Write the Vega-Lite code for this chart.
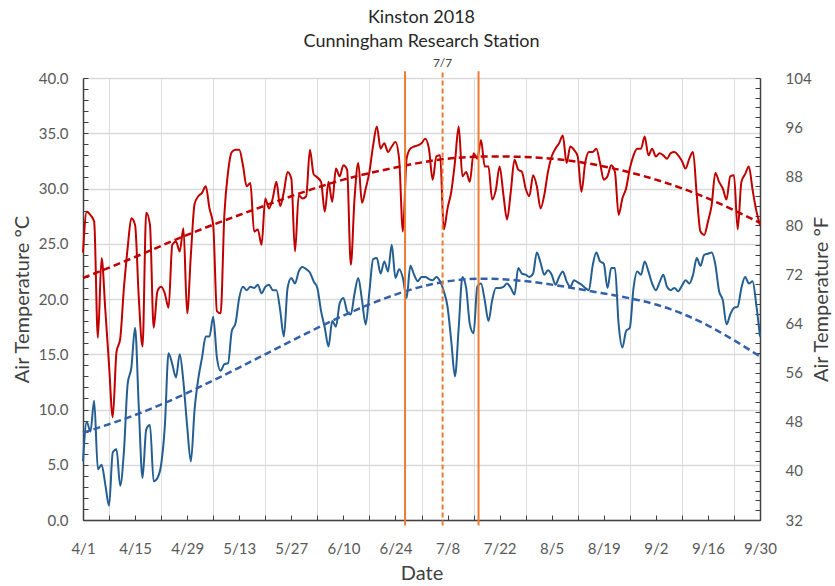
{
  "$schema": "https://vega.github.io/schema/vega-lite/v6.json",
  "autosize": {"type": "none"},
  "width": 677,
  "height": 442,
  "padding": {"left": 83, "top": 78, "right": 75, "bottom": 66},
  "background": "white",
  "title": {"text": ["Kinston 2018", "Cunningham Research Station"], "font": "Lato", "fontSize": 18, "fontWeight": "normal", "color": "#262626", "lineHeight": 24, "offset": 6, "anchor": "middle", "frame": "group"},
  "config": {
    "view": {"stroke": null},
    "axis": {"labelFont": "Lato", "titleFont": "Lato", "labelColor": "#595959", "titleColor": "#404040", "titleFontWeight": "normal", "domainColor": "#404040", "tickColor": "#404040"}
  },
  "datasets": {
    "temps": [
      {"date": "2018-04-01", "tmax": 24.2, "tmin": 5.3},
      {"date": "2018-04-02", "tmax": 27.9, "tmin": 8.9},
      {"date": "2018-04-03", "tmax": 27.6, "tmin": 8.0},
      {"date": "2018-04-04", "tmax": 27.0, "tmin": 10.8},
      {"date": "2018-04-05", "tmax": 16.5, "tmin": 4.6},
      {"date": "2018-04-06", "tmax": 23.7, "tmin": 5.0},
      {"date": "2018-04-07", "tmax": 19.0, "tmin": 3.2},
      {"date": "2018-04-08", "tmax": 14.0, "tmin": 1.3},
      {"date": "2018-04-09", "tmax": 9.3, "tmin": 6.1},
      {"date": "2018-04-10", "tmax": 15.2, "tmin": 6.4},
      {"date": "2018-04-11", "tmax": 16.4, "tmin": 3.1},
      {"date": "2018-04-12", "tmax": 21.0, "tmin": 6.2},
      {"date": "2018-04-13", "tmax": 24.6, "tmin": 12.3},
      {"date": "2018-04-14", "tmax": 27.3, "tmin": 13.8},
      {"date": "2018-04-15", "tmax": 26.7, "tmin": 17.4},
      {"date": "2018-04-16", "tmax": 20.1, "tmin": 10.2},
      {"date": "2018-04-17", "tmax": 15.7, "tmin": 3.8},
      {"date": "2018-04-18", "tmax": 27.8, "tmin": 8.2},
      {"date": "2018-04-19", "tmax": 26.7, "tmin": 8.6},
      {"date": "2018-04-20", "tmax": 17.4, "tmin": 3.5},
      {"date": "2018-04-21", "tmax": 20.7, "tmin": 3.8},
      {"date": "2018-04-22", "tmax": 21.1, "tmin": 5.0},
      {"date": "2018-04-23", "tmax": 20.5, "tmin": 8.5},
      {"date": "2018-04-24", "tmax": 19.2, "tmin": 15.1},
      {"date": "2018-04-25", "tmax": 24.9, "tmin": 14.1},
      {"date": "2018-04-26", "tmax": 25.2, "tmin": 12.9},
      {"date": "2018-04-27", "tmax": 24.3, "tmin": 15.0},
      {"date": "2018-04-28", "tmax": 26.4, "tmin": 12.5},
      {"date": "2018-04-29", "tmax": 18.7, "tmin": 8.5},
      {"date": "2018-04-30", "tmax": 24.0, "tmin": 5.3},
      {"date": "2018-05-01", "tmax": 28.6, "tmin": 10.0},
      {"date": "2018-05-02", "tmax": 29.3, "tmin": 12.8},
      {"date": "2018-05-03", "tmax": 29.6, "tmin": 14.7},
      {"date": "2018-05-04", "tmax": 30.2, "tmin": 16.6},
      {"date": "2018-05-05", "tmax": 28.2, "tmin": 16.6},
      {"date": "2018-05-06", "tmax": 26.7, "tmin": 18.4},
      {"date": "2018-05-07", "tmax": 18.9, "tmin": 14.7},
      {"date": "2018-05-08", "tmax": 18.7, "tmin": 13.5},
      {"date": "2018-05-09", "tmax": 27.6, "tmin": 14.1},
      {"date": "2018-05-10", "tmax": 31.5, "tmin": 14.2},
      {"date": "2018-05-11", "tmax": 33.3, "tmin": 17.1},
      {"date": "2018-05-12", "tmax": 33.5, "tmin": 17.8},
      {"date": "2018-05-13", "tmax": 33.5, "tmin": 20.1},
      {"date": "2018-05-14", "tmax": 32.1, "tmin": 21.1},
      {"date": "2018-05-15", "tmax": 30.2, "tmin": 20.8},
      {"date": "2018-05-16", "tmax": 30.5, "tmin": 21.1},
      {"date": "2018-05-17", "tmax": 26.1, "tmin": 21.0},
      {"date": "2018-05-18", "tmax": 26.3, "tmin": 21.3},
      {"date": "2018-05-19", "tmax": 24.9, "tmin": 20.5},
      {"date": "2018-05-20", "tmax": 29.1, "tmin": 21.1},
      {"date": "2018-05-21", "tmax": 28.2, "tmin": 21.3},
      {"date": "2018-05-22", "tmax": 29.1, "tmin": 20.8},
      {"date": "2018-05-23", "tmax": 30.6, "tmin": 20.8},
      {"date": "2018-05-24", "tmax": 28.4, "tmin": 19.0},
      {"date": "2018-05-25", "tmax": 29.7, "tmin": 16.6},
      {"date": "2018-05-26", "tmax": 31.5, "tmin": 21.0},
      {"date": "2018-05-27", "tmax": 30.9, "tmin": 21.9},
      {"date": "2018-05-28", "tmax": 24.3, "tmin": 21.4},
      {"date": "2018-05-29", "tmax": 29.4, "tmin": 22.5},
      {"date": "2018-05-30", "tmax": 29.1, "tmin": 22.9},
      {"date": "2018-05-31", "tmax": 29.3, "tmin": 22.7},
      {"date": "2018-06-01", "tmax": 33.5, "tmin": 22.4},
      {"date": "2018-06-02", "tmax": 31.3, "tmin": 21.6},
      {"date": "2018-06-03", "tmax": 31.0, "tmin": 21.0},
      {"date": "2018-06-04", "tmax": 30.6, "tmin": 18.9},
      {"date": "2018-06-05", "tmax": 27.9, "tmin": 17.4},
      {"date": "2018-06-06", "tmax": 30.6, "tmin": 15.7},
      {"date": "2018-06-07", "tmax": 28.8, "tmin": 18.0},
      {"date": "2018-06-08", "tmax": 31.8, "tmin": 17.5},
      {"date": "2018-06-09", "tmax": 31.1, "tmin": 19.6},
      {"date": "2018-06-10", "tmax": 32.1, "tmin": 20.1},
      {"date": "2018-06-11", "tmax": 31.7, "tmin": 18.9},
      {"date": "2018-06-12", "tmax": 23.1, "tmin": 18.6},
      {"date": "2018-06-13", "tmax": 29.1, "tmin": 20.5},
      {"date": "2018-06-14", "tmax": 32.3, "tmin": 21.9},
      {"date": "2018-06-15", "tmax": 28.7, "tmin": 19.9},
      {"date": "2018-06-16", "tmax": 30.0, "tmin": 17.7},
      {"date": "2018-06-17", "tmax": 31.5, "tmin": 20.7},
      {"date": "2018-06-18", "tmax": 33.9, "tmin": 23.6},
      {"date": "2018-06-19", "tmax": 35.6, "tmin": 23.7},
      {"date": "2018-06-20", "tmax": 33.6, "tmin": 22.3},
      {"date": "2018-06-21", "tmax": 34.1, "tmin": 23.4},
      {"date": "2018-06-22", "tmax": 33.3, "tmin": 22.5},
      {"date": "2018-06-23", "tmax": 33.8, "tmin": 24.9},
      {"date": "2018-06-24", "tmax": 34.2, "tmin": 21.9},
      {"date": "2018-06-25", "tmax": 32.6, "tmin": 22.7},
      {"date": "2018-06-26", "tmax": 26.1, "tmin": 21.9},
      {"date": "2018-06-27", "tmax": 32.7, "tmin": 20.1},
      {"date": "2018-06-28", "tmax": 33.6, "tmin": 23.0},
      {"date": "2018-06-29", "tmax": 33.8, "tmin": 22.2},
      {"date": "2018-06-30", "tmax": 33.9, "tmin": 21.6},
      {"date": "2018-07-01", "tmax": 34.1, "tmin": 22.0},
      {"date": "2018-07-02", "tmax": 34.5, "tmin": 22.0},
      {"date": "2018-07-03", "tmax": 33.6, "tmin": 21.8},
      {"date": "2018-07-04", "tmax": 30.8, "tmin": 21.7},
      {"date": "2018-07-05", "tmax": 32.9, "tmin": 22.0},
      {"date": "2018-07-06", "tmax": 33.0, "tmin": 21.6},
      {"date": "2018-07-07", "tmax": 26.3, "tmin": 20.7},
      {"date": "2018-07-08", "tmax": 28.2, "tmin": 19.3},
      {"date": "2018-07-09", "tmax": 29.7, "tmin": 16.2},
      {"date": "2018-07-10", "tmax": 32.4, "tmin": 13.0},
      {"date": "2018-07-11", "tmax": 35.6, "tmin": 17.4},
      {"date": "2018-07-12", "tmax": 31.1, "tmin": 22.0},
      {"date": "2018-07-13", "tmax": 31.5, "tmin": 21.0},
      {"date": "2018-07-14", "tmax": 30.6, "tmin": 17.7},
      {"date": "2018-07-15", "tmax": 33.2, "tmin": 16.9},
      {"date": "2018-07-16", "tmax": 32.7, "tmin": 21.1},
      {"date": "2018-07-17", "tmax": 34.4, "tmin": 21.4},
      {"date": "2018-07-18", "tmax": 32.0, "tmin": 19.9},
      {"date": "2018-07-19", "tmax": 32.0, "tmin": 18.0},
      {"date": "2018-07-20", "tmax": 29.0, "tmin": 19.9},
      {"date": "2018-07-21", "tmax": 29.9, "tmin": 21.0},
      {"date": "2018-07-22", "tmax": 32.0, "tmin": 21.0},
      {"date": "2018-07-23", "tmax": 29.5, "tmin": 21.1},
      {"date": "2018-07-24", "tmax": 27.2, "tmin": 21.4},
      {"date": "2018-07-25", "tmax": 29.7, "tmin": 21.0},
      {"date": "2018-07-26", "tmax": 32.6, "tmin": 20.4},
      {"date": "2018-07-27", "tmax": 31.7, "tmin": 22.8},
      {"date": "2018-07-28", "tmax": 31.5, "tmin": 22.3},
      {"date": "2018-07-29", "tmax": 30.0, "tmin": 22.2},
      {"date": "2018-07-30", "tmax": 29.3, "tmin": 22.0},
      {"date": "2018-07-31", "tmax": 31.2, "tmin": 22.3},
      {"date": "2018-08-01", "tmax": 30.2, "tmin": 24.2},
      {"date": "2018-08-02", "tmax": 28.2, "tmin": 23.3},
      {"date": "2018-08-03", "tmax": 29.4, "tmin": 22.2},
      {"date": "2018-08-04", "tmax": 31.5, "tmin": 22.6},
      {"date": "2018-08-05", "tmax": 32.9, "tmin": 22.2},
      {"date": "2018-08-06", "tmax": 33.6, "tmin": 21.3},
      {"date": "2018-08-07", "tmax": 34.1, "tmin": 22.0},
      {"date": "2018-08-08", "tmax": 34.8, "tmin": 22.5},
      {"date": "2018-08-09", "tmax": 32.3, "tmin": 21.6},
      {"date": "2018-08-10", "tmax": 33.8, "tmin": 21.1},
      {"date": "2018-08-11", "tmax": 33.5, "tmin": 21.7},
      {"date": "2018-08-12", "tmax": 32.9, "tmin": 21.5},
      {"date": "2018-08-13", "tmax": 29.7, "tmin": 21.3},
      {"date": "2018-08-14", "tmax": 32.3, "tmin": 21.0},
      {"date": "2018-08-15", "tmax": 33.3, "tmin": 20.8},
      {"date": "2018-08-16", "tmax": 33.3, "tmin": 23.0},
      {"date": "2018-08-17", "tmax": 33.6, "tmin": 24.2},
      {"date": "2018-08-18", "tmax": 32.3, "tmin": 23.4},
      {"date": "2018-08-19", "tmax": 30.8, "tmin": 23.2},
      {"date": "2018-08-20", "tmax": 31.1, "tmin": 21.0},
      {"date": "2018-08-21", "tmax": 32.1, "tmin": 22.8},
      {"date": "2018-08-22", "tmax": 31.5, "tmin": 22.8},
      {"date": "2018-08-23", "tmax": 27.6, "tmin": 17.7},
      {"date": "2018-08-24", "tmax": 29.1, "tmin": 15.6},
      {"date": "2018-08-25", "tmax": 30.0, "tmin": 17.1},
      {"date": "2018-08-26", "tmax": 31.8, "tmin": 17.4},
      {"date": "2018-08-27", "tmax": 33.0, "tmin": 21.0},
      {"date": "2018-08-28", "tmax": 33.6, "tmin": 22.5},
      {"date": "2018-08-29", "tmax": 33.6, "tmin": 22.2},
      {"date": "2018-08-30", "tmax": 34.7, "tmin": 23.4},
      {"date": "2018-08-31", "tmax": 33.0, "tmin": 22.5},
      {"date": "2018-09-01", "tmax": 33.6, "tmin": 21.4},
      {"date": "2018-09-02", "tmax": 32.9, "tmin": 20.8},
      {"date": "2018-09-03", "tmax": 33.2, "tmin": 21.5},
      {"date": "2018-09-04", "tmax": 33.0, "tmin": 22.2},
      {"date": "2018-09-05", "tmax": 32.7, "tmin": 21.1},
      {"date": "2018-09-06", "tmax": 33.2, "tmin": 20.8},
      {"date": "2018-09-07", "tmax": 33.3, "tmin": 21.0},
      {"date": "2018-09-08", "tmax": 33.0, "tmin": 20.7},
      {"date": "2018-09-09", "tmax": 32.5, "tmin": 21.2},
      {"date": "2018-09-10", "tmax": 31.8, "tmin": 21.7},
      {"date": "2018-09-11", "tmax": 32.7, "tmin": 21.4},
      {"date": "2018-09-12", "tmax": 33.3, "tmin": 22.2},
      {"date": "2018-09-13", "tmax": 29.4, "tmin": 23.7},
      {"date": "2018-09-14", "tmax": 26.1, "tmin": 23.0},
      {"date": "2018-09-15", "tmax": 25.8, "tmin": 24.0},
      {"date": "2018-09-16", "tmax": 27.0, "tmin": 24.1},
      {"date": "2018-09-17", "tmax": 28.5, "tmin": 24.2},
      {"date": "2018-09-18", "tmax": 31.4, "tmin": 23.1},
      {"date": "2018-09-19", "tmax": 30.6, "tmin": 20.7},
      {"date": "2018-09-20", "tmax": 30.0, "tmin": 19.9},
      {"date": "2018-09-21", "tmax": 29.0, "tmin": 17.7},
      {"date": "2018-09-22", "tmax": 31.1, "tmin": 18.6},
      {"date": "2018-09-23", "tmax": 31.2, "tmin": 19.2},
      {"date": "2018-09-24", "tmax": 26.3, "tmin": 19.3},
      {"date": "2018-09-25", "tmax": 30.6, "tmin": 21.0},
      {"date": "2018-09-26", "tmax": 31.3, "tmin": 22.0},
      {"date": "2018-09-27", "tmax": 32.0, "tmin": 21.4},
      {"date": "2018-09-28", "tmax": 29.9, "tmin": 21.6},
      {"date": "2018-09-29", "tmax": 28.0, "tmin": 19.5},
      {"date": "2018-09-30", "tmax": 26.7, "tmin": 16.6}
    ],
    "trend": [
      {"date": "2018-04-01", "tmax_trend": 21.9, "tmin_trend": 7.9},
      {"date": "2018-04-15", "tmax_trend": 23.8, "tmin_trend": 9.5},
      {"date": "2018-04-29", "tmax_trend": 25.8, "tmin_trend": 11.5},
      {"date": "2018-05-13", "tmax_trend": 27.6, "tmin_trend": 13.8},
      {"date": "2018-05-27", "tmax_trend": 29.3, "tmin_trend": 16.2},
      {"date": "2018-06-10", "tmax_trend": 30.8, "tmin_trend": 18.5},
      {"date": "2018-06-24", "tmax_trend": 31.9, "tmin_trend": 20.4},
      {"date": "2018-07-08", "tmax_trend": 32.7, "tmin_trend": 21.6},
      {"date": "2018-07-22", "tmax_trend": 32.9, "tmin_trend": 21.8},
      {"date": "2018-08-05", "tmax_trend": 32.7, "tmin_trend": 21.3},
      {"date": "2018-08-19", "tmax_trend": 32.0, "tmin_trend": 20.5},
      {"date": "2018-09-02", "tmax_trend": 30.8, "tmin_trend": 19.5},
      {"date": "2018-09-16", "tmax_trend": 29.1, "tmin_trend": 17.6},
      {"date": "2018-09-30", "tmax_trend": 26.9, "tmin_trend": 14.8}
    ],
    "markers": [
      {"date": "2018-06-26T14:00:00Z", "kind": "solid", "label": ""},
      {"date": "2018-07-06T16:00:00Z", "kind": "dashed", "label": "7/7"},
      {"date": "2018-07-16T08:00:00Z", "kind": "solid", "label": ""}
    ]
  },
  "layer": [
    {
      "resolve": {"axis": {"x": "independent", "y": "independent"}},
      "layer": [
        {
          "data": {"name": "temps", "format": {"parse": {"date": "date"}}},
          "mark": {"type": "line", "color": "#C00000", "strokeWidth": 2, "interpolate": "monotone"},
          "encoding": {
            "x": {
              "field": "date", "type": "temporal",
              "scale": {"type": "utc", "domain": [1522540800000, 1538265600000]},
              "axis": {
                "orient": "bottom",
                "values": [1522540800000, 1523145600000, 1523750400000, 1524355200000, 1524960000000, 1525564800000, 1526169600000, 1526774400000, 1527379200000, 1527984000000, 1528588800000, 1529193600000, 1529798400000, 1530403200000, 1531008000000, 1531612800000, 1532217600000, 1532822400000, 1533427200000, 1534032000000, 1534636800000, 1535241600000, 1535846400000, 1536451200000, 1537056000000, 1537660800000, 1538265600000],
                "labelExpr": "(datum.value - 1522540800000) % 1209600000 === 0 ? utcFormat(datum.value, '%-m/%-d') : ''",
                "labelOverlap": false, "labelFlush": false, "labelFontSize": 15, "labelPadding": 26,
                "tickSize": -5, "tickWidth": 1,
                "domainWidth": 1.5,
                "grid": true, "gridColor": "#DDDDDD", "gridWidth": 1,
                "gridOpacity": {"condition": {"test": "(+datum.value - 1523145600000) % 1209600000 === 0", "value": 1}, "value": 0},
                "title": "Date", "titleFontSize": 20, "titlePadding": 7
              }
            },
            "y": {
              "field": "tmax", "type": "quantitative",
              "scale": {"domain": [0, 40], "nice": false, "zero": false},
              "axis": {
                "orient": "left",
                "values": [0,1,2,3,4,5,6,7,8,9,10,11,12,13,14,15,16,17,18,19,20,21,22,23,24,25,26,27,28,29,30,31,32,33,34,35,36,37,38,39,40],
                "labelExpr": "datum.value % 5 === 0 ? format(datum.value, '.1f') : ''",
                "labelOverlap": false, "labelFlush": false, "labelFontSize": 15, "labelPadding": 20,
                "tickSize": -5, "tickWidth": 1,
                "domainWidth": 1.5,
                "grid": true, "gridColor": "#D9D9D9", "gridWidth": 1.5,
                "gridOpacity": {"condition": {"test": "datum.value % 5 === 0", "value": 1}, "value": 0},
                "title": "Air Temperature °C", "titleFontSize": 20, "titlePadding": 6
              }
            }
          }
        },
        {
          "data": {"name": "temps", "format": {"parse": {"date": "date"}}},
          "mark": {"type": "line", "color": "#255E91", "strokeWidth": 2, "interpolate": "monotone"},
          "encoding": {
            "x": {"field": "date", "type": "temporal", "scale": {"type": "utc"}, "axis": null},
            "y": {"field": "tmin", "type": "quantitative", "scale": {"domain": [0, 40]}, "axis": null}
          }
        },
        {
          "data": {"name": "trend", "format": {"parse": {"date": "date"}}},
          "mark": {"type": "line", "color": "#C00000", "strokeWidth": 2.5, "strokeDash": [7, 4], "interpolate": "natural"},
          "encoding": {
            "x": {"field": "date", "type": "temporal", "scale": {"type": "utc"}, "axis": null},
            "y": {"field": "tmax_trend", "type": "quantitative", "scale": {"domain": [0, 40]}, "axis": null}
          }
        },
        {
          "data": {"name": "trend", "format": {"parse": {"date": "date"}}},
          "mark": {"type": "line", "color": "#3360A9", "strokeWidth": 2.5, "strokeDash": [7, 4], "interpolate": "natural"},
          "encoding": {
            "x": {"field": "date", "type": "temporal", "scale": {"type": "utc"}, "axis": null},
            "y": {"field": "tmin_trend", "type": "quantitative", "scale": {"domain": [0, 40]}, "axis": null}
          }
        },
        {
          "data": {"name": "markers"},
          "mark": {"type": "rule", "color": "#ED7D31", "strokeWidth": 2},
          "encoding": {
            "x": {"field": "date", "type": "temporal", "scale": {"type": "utc"}, "axis": null},
            "y": {"datum": -0.5, "type": "quantitative", "scale": {"domain": [0, 40]}, "axis": null},
            "y2": {"datum": 40.6},
            "strokeDash": {"field": "kind", "type": "nominal", "scale": {"domain": ["solid", "dashed"], "range": [[1, 0], [5, 3]]}, "legend": null}
          }
        },
        {
          "data": {"name": "markers"},
          "transform": [{"filter": "datum.label !== ''"}],
          "mark": {"type": "text", "font": "Lato", "fontSize": 12, "color": "#404040", "baseline": "middle", "align": "center"},
          "encoding": {
            "x": {"field": "date", "type": "temporal", "scale": {"type": "utc"}, "axis": null},
            "y": {"datum": 41.4, "type": "quantitative", "scale": {"domain": [0, 40]}, "axis": null},
            "text": {"field": "label"}
          }
        }
      ]
    },
    {
      "data": {"values": [{}]},
      "mark": {"type": "rule", "opacity": 0},
      "encoding": {
        "y": {
          "datum": 32, "type": "quantitative",
          "scale": {"domain": [32, 104], "nice": false, "zero": false},
          "axis": {
            "orient": "right",
            "values": [32, 33.6, 35.2, 36.8, 38.4, 40, 41.6, 43.2, 44.8, 46.4, 48, 49.6, 51.2, 52.8, 54.4, 56, 57.6, 59.2, 60.8, 62.4, 64, 65.6, 67.2, 68.8, 70.4, 72, 73.6, 75.2, 76.8, 78.4, 80, 81.6, 83.2, 84.8, 86.4, 88, 89.6, 91.2, 92.8, 94.4, 96, 97.6, 99.2, 100.8, 102.4, 104],
            "labelExpr": "datum.value % 8 === 0 ? format(datum.value, 'd') : ''",
            "labelOverlap": false, "labelFlush": false, "labelFontSize": 15, "labelPadding": 30,
            "tickSize": -5, "tickWidth": 1,
            "domainWidth": 1.5,
            "grid": false,
            "title": "Air Temperature °F", "titleFontSize": 20, "titleAngle": 270, "titlePadding": 20
          }
        }
      }
    }
  ],
  "resolve": {"scale": {"y": "independent"}}
}
